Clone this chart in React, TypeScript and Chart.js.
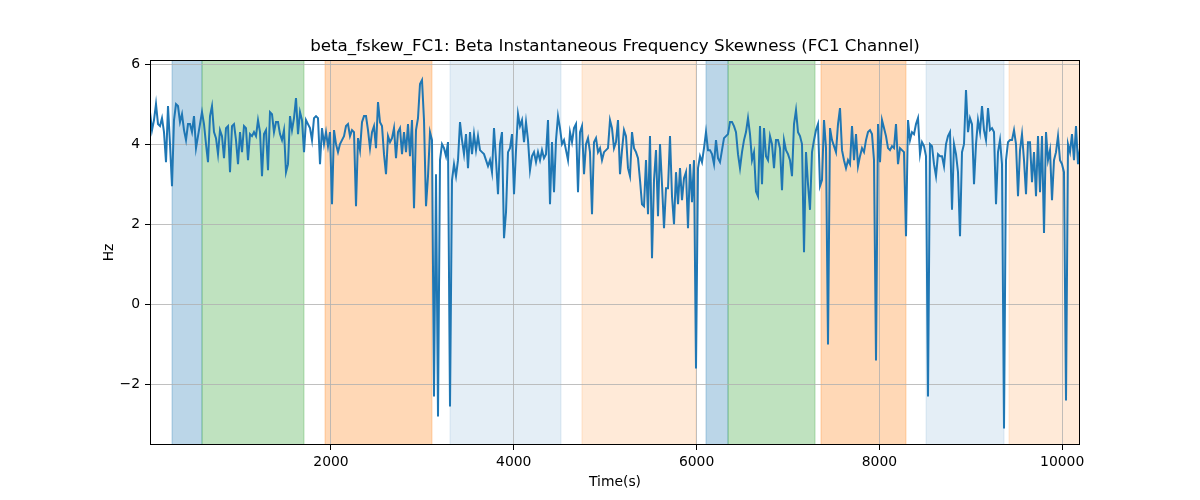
import React, { useEffect, useRef } from "react";
import { Chart, registerables } from "chart.js";

Chart.register(...registerables);

const TITLE = "beta_fskew_FC1: Beta Instantaneous Frequency Skewness (FC1 Channel)";
const X_LABEL = "Time(s)";
const Y_LABEL = "Hz";

const T_START = 20;
const T_END = 10195;
const Y_MIN = -3.51;
const Y_MAX = 6.1;

const X_TICKS = [2000, 4000, 6000, 8000, 10000];
const Y_TICKS = [-2, 0, 2, 4, 6];

const SPAN_STARTS = [261, 589, 1935, 3302, 4746, 6103, 6344, 7361, 8510, 9418];
const SPAN_ENDS = [589, 1705, 3105, 4517, 5994, 6344, 7296, 8291, 9364, 10195];
const SPAN_COLORS = [
  "rgba(31,119,180,0.3)",
  "rgba(44,160,44,0.3)",
  "rgba(255,127,14,0.3)",
  "rgba(31,119,180,0.12)",
  "rgba(255,127,14,0.16)",
  "rgba(31,119,180,0.3)",
  "rgba(44,160,44,0.3)",
  "rgba(255,127,14,0.3)",
  "rgba(31,119,180,0.12)",
  "rgba(255,127,14,0.16)",
];

const SKEW_PART1 = [
  4.8, 4.35, 4.6, 5.0, 4.5, 4.45, 4.65, 4.3, 3.55, 4.95,
  4.0, 2.95, 4.6, 5.0, 4.95, 4.55, 4.75, 4.35, 4.1, 4.5,
  4.5, 4.3, 4.7, 3.9, 4.2, 4.5, 4.8, 4.5, 4.0, 3.55,
  4.7, 4.95, 4.3, 4.15, 3.75, 4.35, 4.2, 3.65, 4.4, 4.45,
  3.3, 4.45, 4.5, 4.1, 3.5, 4.3, 3.8, 4.45, 4.4, 3.6,
  4.25, 4.2, 4.3, 4.2, 4.6, 4.3, 3.2, 4.25, 4.35, 3.35,
  4.8, 4.75, 4.3, 4.55, 4.55, 4.25, 4.1, 4.35, 3.3, 3.5,
  4.7, 4.35, 4.65, 5.15, 4.25, 4.8, 4.6, 3.8, 4.6, 4.5,
];
const SKEW_PART2 = [
  4.4, 4.1, 4.65, 4.7, 4.65, 3.5, 4.4, 4.0, 4.3, 3.95,
  4.3, 2.5, 4.35, 4.0, 3.8, 4.0, 4.1, 4.2, 4.45, 4.5,
  4.2, 4.35, 4.3, 2.45, 4.15, 3.85, 4.55, 4.7, 4.7, 4.35,
  3.9, 4.3, 4.45, 3.9, 5.05, 4.55, 4.45, 3.75, 3.25, 4.2,
  4.05, 4.15, 4.4, 3.65, 4.3, 4.4, 3.75, 4.3, 3.8, 4.5,
  3.7, 4.6, 2.4, 4.35, 4.65, 5.5, 5.6, 4.6, 2.45, 3.2,
  4.3, 4.1, -2.3, 3.25, -2.8, 3.6, 4.0, 3.9, 3.7, 4.05,
  -2.55, 3.1, 3.5, 3.2, 3.6, 4.55, 4.1, 3.75, 4.25, 3.4,
];
const SKEW_PART3 = [
  4.3, 3.75, 4.25, 3.85, 4.2, 3.85, 3.8, 3.75, 3.6, 3.45,
  3.6, 3.3, 4.4, 3.6, 2.75, 4.0, 4.3, 1.65, 2.3, 3.8,
  3.9, 4.25, 2.75, 3.85, 4.75, 4.45, 4.6, 4.05, 4.55, 4.1,
  3.35, 3.7, 3.8, 3.55, 3.8, 3.6, 3.85, 3.65, 3.75, 4.6,
  2.5, 4.05, 2.8, 4.1, 4.7, 4.4, 4.0, 4.1, 3.85, 3.6,
  4.3, 4.05, 4.4, 4.5, 2.8, 4.3, 4.45, 3.25, 4.0, 4.15,
  3.8, 2.25, 4.05, 4.15, 3.8, 3.9, 3.6, 3.8, 3.85, 3.9,
  4.6, 4.4, 3.9, 4.05, 4.6, 3.25, 3.85, 4.35, 4.2, 3.4,
];
const SKEW_PART4 = [
  3.2, 4.3, 3.9, 3.8, 3.65, 3.1, 2.5, 2.45, 3.6, 2.25,
  4.2, 1.15, 3.1, 3.85, 2.2, 4.0, 3.0, 1.9, 2.9, 2.9,
  4.2, 2.7, 2.0, 3.3, 2.5, 3.4, 2.6, 3.15, 3.3, 1.9,
  3.5, 2.55, 3.6, -1.6, 3.4, 3.7, 3.55, 3.9, 4.3, 3.85,
  3.85, 3.75, 3.5, 4.1, 3.65, 3.55, 3.85, 4.15, 4.2, 4.25,
  4.55, 4.55, 4.45, 4.3, 3.75, 3.4, 3.8, 4.1, 4.3, 4.65,
  4.25, 3.6, 3.8, 2.82, 2.7, 4.45, 3.0, 4.4, 3.7, 3.6,
  4.2, 4.0, 3.4, 4.1, 4.1, 3.9, 2.85, 4.1, 3.85, 3.75,
];
const SKEW_PART5 = [
  3.6, 3.2, 4.5, 4.85, 4.3, 4.2, 4.0, 1.3, 3.8, 3.0,
  2.36, 3.8, 4.1, 4.35, 4.5, 2.95, 3.1, 4.6, 3.9, -1.0,
  4.4, 4.1, 3.95, 3.8, 4.5, 4.9, 3.85, 3.6, 3.4, 3.6,
  3.5, 4.45, 3.6, 4.25, 3.45, 3.7, 3.9, 3.8, 4.1, 4.3,
  4.35, 4.25, 3.6, -1.4, 4.5, 3.55, 4.6, 4.4, 4.2, 3.9,
  3.85, 3.95, 3.9, 4.5, 3.5, 3.9, 3.85, 3.8, 1.7, 4.6,
  4.1, 4.3, 4.25, 4.5, 4.65, 3.75, 4.05, 3.95, 3.7, -2.3,
  4.0, 3.95, 3.5,
];
const SKEW_PART6 = [
  3.2, 3.75, 3.7, 3.7, 3.45, 4.0, 4.2, 4.3, 2.36, 4.0,
  3.75, 3.3, 1.7, 3.8, 4.0, 5.35, 4.3, 4.65, 4.5, 3.0,
  4.0, 4.6, 4.3, 4.95, 4.35, 4.1, 4.9, 4.35, 4.4, 4.3,
  2.5, 3.8, 4.1, 3.5, -3.1, 3.6, 4.05, 4.1, 4.1, 4.35,
  4.0, 2.7, 3.85, 4.25, 3.6, 2.75, 4.05, 4.05, 3.05, 3.8,
  2.7, 4.2, 2.8, 4.2, 1.78, 4.3, 3.6, 3.85, 2.6, 3.6,
  3.8, 4.2, 3.6, 3.5, 3.3, -2.4, 4.0, 3.8, 4.25, 3.6,
  4.45, 3.5, 3.9,
];

const SKEW = [
  ...SKEW_PART1,
  ...SKEW_PART2,
  ...SKEW_PART3,
  ...SKEW_PART4,
  ...SKEW_PART5,
  ...SKEW_PART6,
];

const FONT = "'DejaVu Sans', sans-serif";

const fmt = (v: number) => (v < 0 ? "\u2212" + Math.abs(v) : String(v));

const framePlugin = {
  id: "frame",
  beforeDraw(chart: any) {
    const { ctx, chartArea: a, scales } = chart;
    const x = scales.x;
    ctx.save();
    ctx.fillStyle = "#ffffff";
    ctx.fillRect(0, 0, chart.width, chart.height);
    ctx.beginPath();
    ctx.rect(a.left, a.top, a.right - a.left, a.bottom - a.top);
    ctx.clip();
    SPAN_STARTS.forEach((s, i) => {
      const x0 = x.getPixelForValue(s);
      const x1 = x.getPixelForValue(SPAN_ENDS[i]);
      ctx.fillStyle = SPAN_COLORS[i];
      ctx.fillRect(x0, a.top, x1 - x0, a.bottom - a.top);
      ctx.strokeStyle = SPAN_COLORS[i];
      ctx.lineWidth = 1;
      ctx.beginPath();
      ctx.moveTo(x0, a.top);
      ctx.lineTo(x0, a.bottom);
      ctx.moveTo(x1, a.top);
      ctx.lineTo(x1, a.bottom);
      ctx.stroke();
    });
    ctx.restore();
  },
  afterDraw(chart: any) {
    const { ctx, chartArea: a } = chart;
    ctx.save();
    ctx.strokeStyle = "#000";
    ctx.lineWidth = 1;
    ctx.strokeRect(a.left + 0.5, a.top + 0.5, a.right - a.left - 1, a.bottom - a.top - 1);
    ctx.fillStyle = "#000";
    ctx.textAlign = "center";
    ctx.textBaseline = "alphabetic";
    ctx.font = `16.7px ${FONT}`;
    ctx.fillText(TITLE, (a.left + a.right) / 2, 51);
    ctx.font = `13.9px ${FONT}`;
    ctx.fillText(X_LABEL, (a.left + a.right) / 2, 486);
    ctx.translate(113, (a.top + a.bottom) / 2);
    ctx.rotate(-Math.PI / 2);
    ctx.fillText(Y_LABEL, 0, 0);
    ctx.restore();
  },
};

export default function App() {
  const ref = useRef<HTMLCanvasElement | null>(null);

  useEffect(() => {
    if (!ref.current) return;
    const step = (T_END - T_START) / (SKEW.length - 1);
    const points = SKEW.map((v, i) => ({ x: T_START + i * step, y: v }));
    const chart = new Chart(ref.current, {
      type: "line",
      data: {
        datasets: [
          {
            data: points,
            borderColor: "#1f77b4",
            borderWidth: 2,
            pointRadius: 0,
            tension: 0,
            fill: false,
          },
        ],
      },
      options: {
        animation: false,
        responsive: false,
        maintainAspectRatio: false,
        layout: { padding: { top: 60, right: 120, left: 0, bottom: 0 } },
        plugins: {
          legend: { display: false },
          tooltip: { enabled: false },
          title: { display: false },
        },
        scales: {
          x: {
            type: "linear",
            min: T_START,
            max: T_END,
            afterBuildTicks: (s: any) => {
              s.ticks = X_TICKS.map((v) => ({ value: v }));
            },
            afterFit: (s: any) => {
              s.height = 55;
            },
            grid: {
              color: "#b0b0b0",
              lineWidth: 0.8,
              tickColor: "#000",
              tickLength: 5,
              tickWidth: 1,
            },
            border: { display: false },
            ticks: {
              color: "#000",
              font: { family: FONT, size: 13.9 },
              padding: 4,
              maxRotation: 0,
              autoSkip: false,
              callback: (v: any) => fmt(Number(v)),
            },
          },
          y: {
            type: "linear",
            min: Y_MIN,
            max: Y_MAX,
            afterBuildTicks: (s: any) => {
              s.ticks = Y_TICKS.map((v) => ({ value: v }));
            },
            afterFit: (s: any) => {
              s.width = 150;
            },
            grid: {
              color: "#b0b0b0",
              lineWidth: 0.8,
              tickColor: "#000",
              tickLength: 5,
              tickWidth: 1,
            },
            border: { display: false },
            ticks: {
              color: "#000",
              font: { family: FONT, size: 13.9 },
              padding: 5,
              autoSkip: false,
              callback: (v: any) => fmt(Number(v)),
            },
          },
        },
      },
      plugins: [framePlugin],
    });
    return () => chart.destroy();
  }, []);

  return (
    <div style={{ position: "absolute", left: 0, top: 0, width: 1200, height: 500 }}>
      <canvas ref={ref} width={1200} height={500} style={{ width: 1200, height: 500 }} />
    </div>
  );
}
